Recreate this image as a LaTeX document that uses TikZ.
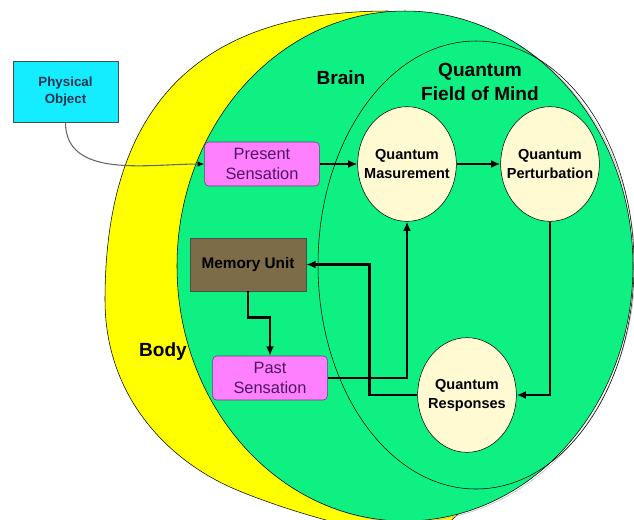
\documentclass[tikz,border=0pt]{standalone}
\usepackage{fontspec}
\setmainfont{Liberation Sans}
\usetikzlibrary{arrows.meta,shapes.geometric}
\definecolor{bodyyellow}{HTML}{FFFF00}
\definecolor{braingreen}{HTML}{0FF083}
\definecolor{qcream}{HTML}{FFFAD2}
\definecolor{senspink}{HTML}{FF80FF}
\definecolor{sensedge}{HTML}{6A3A7A}
\definecolor{senstext}{HTML}{4E1662}
\definecolor{objcyan}{HTML}{14ECFF}
\definecolor{objtext}{HTML}{203550}
\definecolor{memolive}{HTML}{7D6C48}

\begin{document}
\begin{tikzpicture}[x=0.75pt,y=-0.75pt,>={Latex[length=7pt,width=6pt]},
  flow/.style={->,line width=1.8pt},
  sense/.style={draw=sensedge,fill=senspink,rounded corners=3pt,text=senstext,align=center,
    minimum width=86pt,minimum height=33pt,inner sep=1pt,font=\fontsize{12.3}{15}\selectfont},
  qstate/.style={ellipse,draw,fill=qcream,align=center,inner xsep=-8pt,inner ysep=0pt,
    minimum width=74pt,minimum height=86pt,font=\bfseries\fontsize{10.9}{14.2}\selectfont},
  area/.style={font=\bfseries\fontsize{14.3}{18}\selectfont,align=center}]
  \useasboundingbox (0,0) rectangle (634,519);
  % body, brain and field of mind
  \begin{scope}
    \clip (0,0) rectangle (634,519);
    \draw[fill=bodyyellow] (388,11) .. controls (195,11) and (105,110) .. (105,300)
      .. controls (105,395) and (166,458) .. (230,487)
      .. controls (266,503) and (350,532) .. (430,540) -- (560,420) -- (600,150) -- cycle;
    \draw[gray!55] (407,267) ellipse [x radius=228,y radius=255];
    \draw[fill=braingreen] (405,266) ellipse [x radius=228,y radius=255];
    \draw (476,265) ellipse [x radius=158,y radius=224];
  \end{scope}
  \node[area] (brain) at (341,78) {Brain};
  \node[area] (qfm) at (480,82) {Quantum\\Field of Mind};
  \node[area] (body) at (163,352) {Body};
  % boxes
  \node[draw=black!70,fill=objcyan,text=objtext,align=center,minimum width=79pt,minimum height=46pt,
    font=\bfseries\fontsize{10}{12.75}\selectfont] (phys) at (65.5,91.5) {Physical\\Object};
  \node[sense] (present) at (262,164) {Present\\Sensation};
  \node[sense] (past) at (270,378) {Past\\Sensation};
  \node[draw=black!70,fill=memolive,minimum width=87pt,minimum height=40pt,
    font=\bfseries\fontsize{11.5}{14}\selectfont] (mem) at (248,264.5) {Memory Unit};
  \node[qstate] (qm) at (407,164) {Quantum\\Masurement};
  \node[qstate] (qp) at (550,164) {Quantum\\Perturbation};
  \node[qstate] (qr) at (467,395) {Quantum\\Responses};
  % connectors
  \draw[gray!80!black,line width=0.8pt,-{Latex[length=5pt,width=4pt,black]}]
    (phys.south) to[out=-90,in=180] (present.west);
  \draw[flow] (present.east) -- (qm.west);
  \draw[flow] (qm.east) -- (qp.west);
  \draw[flow] (qp.south) |- (qr.east);
  \draw[flow] (qr.west) -- ++(-48,0) |- (mem.east);
  \draw[flow] (past.east) -| (qm.south);
  \draw[flow] (mem.south) -- ++(0,26) -| (past.north);
\end{tikzpicture}
\end{document}
